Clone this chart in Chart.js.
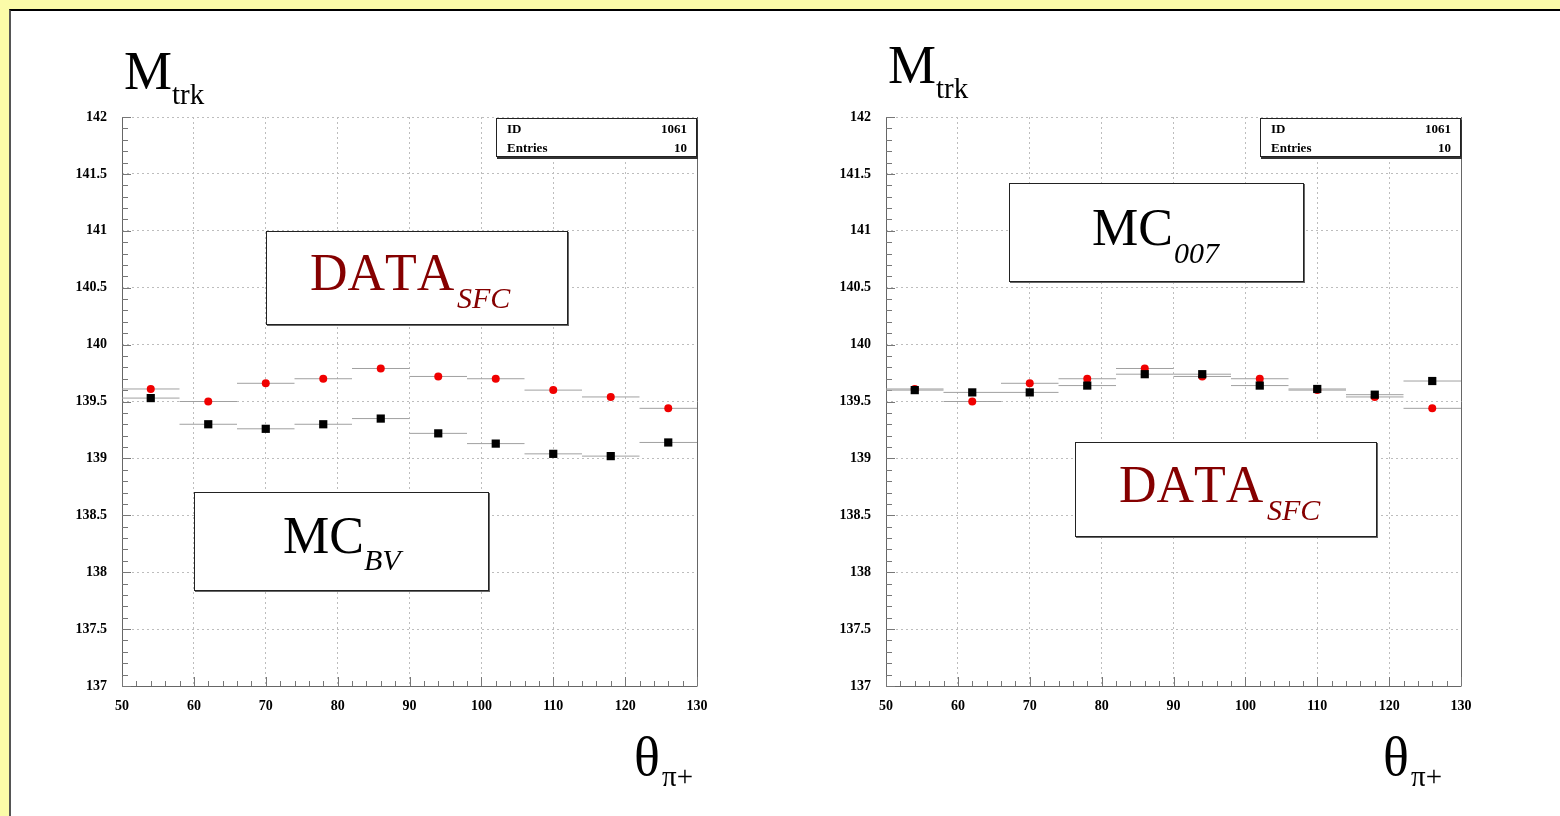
<!DOCTYPE html>
<html>
<head>
<meta charset="utf-8">
<script src="https://cdn.jsdelivr.net/npm/chart.js@4/dist/chart.umd.min.js"></script>
<style>
  html,body{margin:0;padding:0;}
  body{width:1560px;height:816px;background:#fbfba8;position:relative;overflow:hidden;font-family:"Liberation Serif","Times New Roman",serif;}
  #frame{position:absolute;left:9px;top:9px;width:1600px;height:900px;background:#fff;border-top:2px solid #000;border-left:2px solid #555;}
  canvas{position:absolute;top:0;}
  .t{position:absolute;white-space:nowrap;line-height:1;color:#000;font-kerning:none;}
  .box{position:absolute;background:#fff;border:1px solid #222;box-shadow:1px 1px 0 #666;}
  .stats{position:absolute;background:#fff;border:1px solid #222;box-shadow:1px 2px 0 #333;font-weight:bold;font-size:13px;}
  .red{color:#850000;}
  .it{font-style:italic;}
</style>
</head>
<body>
<div id="frame"></div>
<canvas id="c1" width="780" height="816" style="left:0px;width:780px;height:816px;"></canvas>
<canvas id="c2" width="780" height="816" style="left:764px;width:780px;height:816px;"></canvas>

<!-- left panel texts -->
<div class="t" style="left:124px;top:44px;font-size:54px;">M</div>
<div class="t" style="left:172px;top:80px;font-size:29px;">trk</div>
<div class="t" style="left:634px;top:730px;font-size:54px;">θ</div>
<div class="t" style="left:662px;top:762px;font-size:29px;">π+</div>

<div class="stats" style="left:496px;top:118px;width:199px;height:37px;">
  <div class="t" style="left:10px;top:3px;font-size:13px;font-weight:bold;">ID</div>
  <div class="t" style="right:9px;top:3px;font-size:13px;font-weight:bold;">1061</div>
  <div class="t" style="left:10px;top:22px;font-size:13px;font-weight:bold;">Entries</div>
  <div class="t" style="right:9px;top:22px;font-size:13px;font-weight:bold;">10</div>
</div>

<div class="box" style="left:266px;top:231px;width:300px;height:92px;">
  <div class="t red" style="left:43px;top:15px;font-size:52px;">DATA</div>
  <div class="t red it" style="left:190px;top:51px;font-size:30px;">SFC</div>
</div>
<div class="box" style="left:194px;top:492px;width:293px;height:97px;">
  <div class="t" style="left:88px;top:17px;font-size:52px;">MC</div>
  <div class="t it" style="left:169px;top:52px;font-size:30px;">BV</div>
</div>

<!-- right panel texts -->
<div class="t" style="left:888px;top:38px;font-size:54px;">M</div>
<div class="t" style="left:936px;top:74px;font-size:29px;">trk</div>
<div class="t" style="left:1383px;top:730px;font-size:54px;">θ</div>
<div class="t" style="left:1411px;top:762px;font-size:29px;">π+</div>

<div class="stats" style="left:1260px;top:118px;width:199px;height:37px;">
  <div class="t" style="left:10px;top:3px;font-size:13px;font-weight:bold;">ID</div>
  <div class="t" style="right:9px;top:3px;font-size:13px;font-weight:bold;">1061</div>
  <div class="t" style="left:10px;top:22px;font-size:13px;font-weight:bold;">Entries</div>
  <div class="t" style="right:9px;top:22px;font-size:13px;font-weight:bold;">10</div>
</div>

<div class="box" style="left:1009px;top:183px;width:293px;height:97px;">
  <div class="t" style="left:82px;top:18px;font-size:52px;">MC</div>
  <div class="t it" style="left:164px;top:54px;font-size:30px;">007</div>
</div>
<div class="box" style="left:1075px;top:442px;width:300px;height:93px;">
  <div class="t red" style="left:43px;top:16px;font-size:52px;">DATA</div>
  <div class="t red it" style="left:191px;top:52px;font-size:30px;">SFC</div>
</div>

<script>
// ---------- data ----------
const binCenters = [54, 62, 70, 78, 86, 94, 102, 110, 118, 126];
const binHalfWidth = 4;
const dataSFC = [139.61, 139.50, 139.66, 139.70, 139.79, 139.72, 139.70, 139.60, 139.54, 139.44];
const mcBV    = [139.53, 139.30, 139.26, 139.30, 139.35, 139.22, 139.13, 139.04, 139.02, 139.14];
const mc007   = [139.60, 139.58, 139.58, 139.64, 139.74, 139.74, 139.64, 139.61, 139.56, 139.68];
const xRange = [50, 130];
const yRange = [137, 142];
const xMajorStep = 10, xMinorStep = 2;
const yMajorStep = 0.5, yMinorStep = 0.1;

function points(vals){ return binCenters.map((c,i)=>({x:c, y:vals[i]})); }
function errSegments(vals){
  const out = [];
  binCenters.forEach((c,i)=>{
    out.push({x:c-binHalfWidth, y:vals[i]});
    out.push({x:c+binHalfWidth, y:vals[i]});
    out.push({x:c+binHalfWidth, y:null});
  });
  return out;
}

const framePlugin = {
  id:'framePlugin',
  beforeDatasetsDraw(chart){
    const {ctx, chartArea:a, scales:{x, y}} = chart;
    ctx.save();
    ctx.strokeStyle = '#666';
    ctx.lineWidth = 1;
    ctx.setLineDash([]);
    ctx.beginPath();
    ctx.moveTo(a.left+0.5, a.top); ctx.lineTo(a.left+0.5, a.bottom+0.5);
    ctx.lineTo(a.right+0.5, a.bottom+0.5);
    ctx.moveTo(a.right+0.5, a.top); ctx.lineTo(a.right+0.5, a.bottom);
    ctx.stroke();
    ctx.strokeStyle = '#777';
    ctx.beginPath();
    for (let v = yRange[0]; v <= yRange[1] + 1e-9; v += yMinorStep){
      const py = Math.round(y.getPixelForValue(v)) + 0.5;
      const major = Math.abs(v/yMajorStep - Math.round(v/yMajorStep)) < 1e-6;
      ctx.moveTo(a.left, py); ctx.lineTo(a.left + (major ? 9 : 6), py);
    }
    for (let v = xRange[0]; v <= xRange[1] + 1e-9; v += xMinorStep){
      const px = Math.round(x.getPixelForValue(v)) + 0.5;
      const major = Math.abs(v/xMajorStep - Math.round(v/xMajorStep)) < 1e-6;
      ctx.moveTo(px, a.bottom); ctx.lineTo(px, a.bottom - (major ? 9 : 5));
    }
    ctx.stroke();
    ctx.restore();
  }
};

function makeChart(id, blackVals){
  const ctx = document.getElementById(id);
  return new Chart(ctx, {
    type:'line',
    data:{
      datasets:[
        {label:'MC', data:points(blackVals), showLine:false, pointStyle:'rect', pointRadius:5.8,
         pointBackgroundColor:'#000', pointBorderColor:'#000', pointBorderWidth:0, order:0},
        {label:'DATA', data:points(dataSFC), showLine:false, pointStyle:'circle', pointRadius:4,
         pointBackgroundColor:'#f00000', pointBorderColor:'#f00000', pointBorderWidth:0, order:1},
        {label:'errMC', data:errSegments(blackVals), borderColor:'#a0a0a0', borderWidth:1, pointRadius:0,
         spanGaps:false, tension:0, order:2},
        {label:'errDATA', data:errSegments(dataSFC), borderColor:'#a0a0a0', borderWidth:1, pointRadius:0,
         spanGaps:false, tension:0, order:3}
      ]
    },
    options:{
      responsive:false, animation:false, devicePixelRatio:1,
      layout:{padding:{top:117, right:83, left:0, bottom:90}},
      plugins:{legend:{display:false}, tooltip:{enabled:false}},
      scales:{
        x:{type:'linear', min:xRange[0], max:xRange[1],
           afterFit(s){ s.height = 40; },
           ticks:{stepSize:xMajorStep, autoSkip:false, maxRotation:0, padding:12, color:'#000',
                  font:{family:'"Liberation Serif"', size:14, weight:'bold'}},
           grid:{color:'#bdbdbd', lineWidth:1, drawTicks:false},
           border:{display:false, dash:[2,3]}},
        y:{type:'linear', min:yRange[0], max:yRange[1],
           afterFit(s){ s.width = 122; },
           ticks:{stepSize:yMajorStep, autoSkip:false, padding:15, color:'#000',
                  callback:(v)=>String(v),
                  font:{family:'"Liberation Serif"', size:14, weight:'bold'}},
           grid:{color:'#bdbdbd', lineWidth:1, drawTicks:false},
           border:{display:false, dash:[2,3]}}
      }
    },
    plugins:[framePlugin]
  });
}
makeChart('c1', mcBV);
makeChart('c2', mc007);
</script>
</body>
</html>
